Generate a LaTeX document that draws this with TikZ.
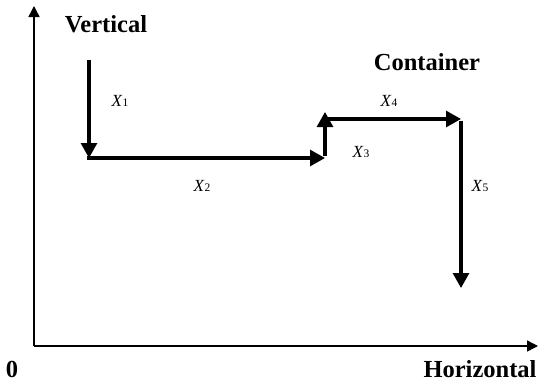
\documentclass[tikz,border=0pt]{standalone}
\usepackage{fontspec}
\setmainfont{Liberation Serif}
\usetikzlibrary{arrows.meta}
\tikzset{
  axis/.style={line width=1.5pt, -{Triangle[width=11pt,length=11pt]}},
  move/.style={line width=3.1pt, -{Triangle[width=16pt,length=15pt]}},
  title/.style={font=\fontsize{24.5}{28}\selectfont\bfseries, inner sep=0pt, anchor=base},
  lab/.style={font=\fontsize{17}{20}\selectfont, inner sep=0pt}
}
\newcommand{\xl}[1]{\textit{X}\kern0.2pt\raisebox{-0.8pt}{\fontsize{11.5}{13}\selectfont #1}}
\begin{document}
\begin{tikzpicture}[x=1pt,y=-1pt]
\useasboundingbox (0,0) rectangle (539,383);
% axes
\coordinate (O) at (34,346);
\coordinate (Ytop) at (34,6);
\coordinate (Xend) at (538,346);
\draw[axis] (O) -- (Ytop);
\draw[axis] (O) -- (Xend);
% path points
\coordinate (A) at (89,60);
\coordinate (B) at (89,158);
\coordinate (C) at (325,158);
\coordinate (D) at (325,112);
\coordinate (D2) at (325,119);
\coordinate (E) at (461,119);
\coordinate (F) at (461,288);
\draw[move] (A) -- (B);
\draw[move] ([xshift=-1.55pt]B) -- (C);
\draw[move] ([yshift=1.55pt]C) -- (D);
\draw[move] (D2) -- (E);
\draw[move] ([yshift=-1.55pt]E) -- (F);
% labels
\node[title] (vert) at (106,32) {Vertical};
\node[title] (cont) at (427,70) {Container};
\node[title] (zero) at (12,377) {0};
\node[title] (hor) at (480,377) {Horizontal};
\node[lab] (x1) at (120,101) {\xl{1}};
\node[lab] (x2) at (202,186) {\xl{2}};
\node[lab] (x3) at (361,152) {\xl{3}};
\node[lab] (x4) at (389,101) {\xl{4}};
\node[lab] (x5) at (480,186) {\xl{5}};
\end{tikzpicture}
\end{document}
